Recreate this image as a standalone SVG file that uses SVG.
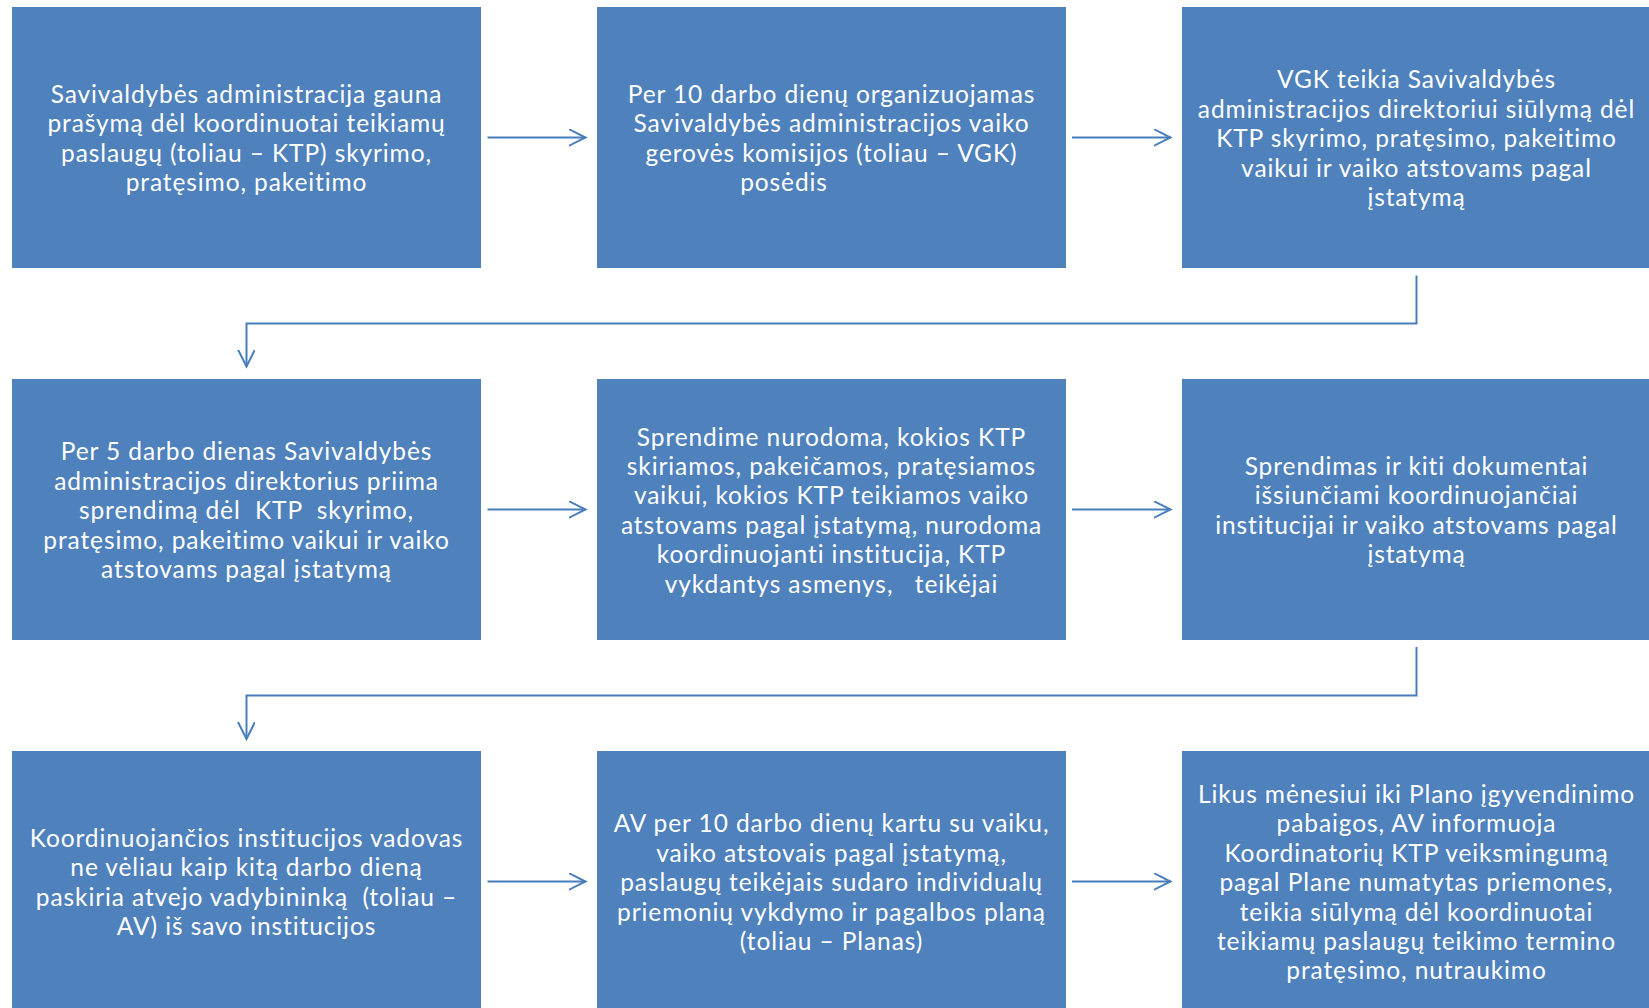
<svg xmlns="http://www.w3.org/2000/svg" width="1649" height="1008" viewBox="0 0 1649 1008">
<style>
.box{fill:#4F81BD;}
.t{font-family:Lato,"Liberation Sans",sans-serif;font-size:24.5px;letter-spacing:0.9px;fill:#FFFFFF;text-anchor:middle;white-space:pre;}
.c{fill:none;stroke:#4A7EBB;stroke-width:2;}
</style>
<defs>
<marker id="ah" markerUnits="userSpaceOnUse" markerWidth="20" markerHeight="20" viewBox="0 0 20 20" refX="17" refY="8.5" orient="auto">
<path d="M0,0 L17,8.5 L0,17" fill="none" stroke="#4A7EBB" stroke-width="2"/>
</marker>
</defs>
<rect width="1649" height="1008" fill="#FFFFFF"/>
<g id="n1">
<rect class="box" x="12" y="7" width="469" height="261"/>
<text class="t" y="103"><tspan x="246.5">Savivaldybės administracija gauna</tspan><tspan x="246.5" dy="29.4">prašymą dėl koordinuotai teikiamų</tspan><tspan x="246.5" dy="29.4">paslaugų (toliau – KTP) skyrimo,</tspan><tspan x="246.5" dy="29.4">pratęsimo, pakeitimo</tspan></text>
</g>
<g id="n2">
<rect class="box" x="597" y="7" width="469" height="261"/>
<text class="t" y="103"><tspan x="831.5">Per 10 darbo dienų organizuojamas</tspan><tspan x="831.5" dy="29.4">Savivaldybės administracijos vaiko</tspan><tspan x="831.5" dy="29.4">gerovės komisijos (toliau – VGK)</tspan><tspan x="784" dy="29.4">posėdis</tspan></text>
</g>
<g id="n3">
<rect class="box" x="1182" y="7" width="469" height="261"/>
<text class="t" y="88.3"><tspan x="1416.5">VGK teikia Savivaldybės</tspan><tspan x="1416.5" dy="29.4">administracijos direktoriui siūlymą dėl</tspan><tspan x="1416.5" dy="29.4">KTP skyrimo, pratęsimo, pakeitimo</tspan><tspan x="1416.5" dy="29.4">vaikui ir vaiko atstovams pagal</tspan><tspan x="1416.5" dy="29.4">įstatymą</tspan></text>
</g>
<g id="n4">
<rect class="box" x="12" y="379" width="469" height="261"/>
<text class="t" y="460.3"><tspan x="246.5">Per 5 darbo dienas Savivaldybės</tspan><tspan x="246.5" dy="29.4">administracijos direktorius priima</tspan><tspan x="246.5" dy="29.4">sprendimą dėl  KTP  skyrimo,</tspan><tspan x="246.5" dy="29.4">pratęsimo, pakeitimo vaikui ir vaiko</tspan><tspan x="246.5" dy="29.4">atstovams pagal įstatymą</tspan></text>
</g>
<g id="n5">
<rect class="box" x="597" y="379" width="469" height="261"/>
<text class="t" y="445.6"><tspan x="831.5">Sprendime nurodoma, kokios KTP</tspan><tspan x="831.5" dy="29.4">skiriamos, pakeičamos, pratęsiamos</tspan><tspan x="831.5" dy="29.4">vaikui, kokios KTP teikiamos vaiko</tspan><tspan x="831.5" dy="29.4">atstovams pagal įstatymą, nurodoma</tspan><tspan x="831.5" dy="29.4">koordinuojanti institucija, KTP</tspan><tspan x="831.5" dy="29.4">vykdantys asmenys,   teikėjai</tspan></text>
</g>
<g id="n6">
<rect class="box" x="1182" y="379" width="469" height="261"/>
<text class="t" y="475"><tspan x="1416.5">Sprendimas ir kiti dokumentai</tspan><tspan x="1416.5" dy="29.4">išsiunčiami koordinuojančiai</tspan><tspan x="1416.5" dy="29.4">institucijai ir vaiko atstovams pagal</tspan><tspan x="1416.5" dy="29.4">įstatymą</tspan></text>
</g>
<g id="n7">
<rect class="box" x="12" y="751" width="469" height="261"/>
<text class="t" y="847"><tspan x="246.5">Koordinuojančios institucijos vadovas</tspan><tspan x="246.5" dy="29.4">ne vėliau kaip kitą darbo dieną</tspan><tspan x="246.5" dy="29.4">paskiria atvejo vadybininką  (toliau –</tspan><tspan x="246.5" dy="29.4">AV) iš savo institucijos</tspan></text>
</g>
<g id="n8">
<rect class="box" x="597" y="751" width="469" height="261"/>
<text class="t" y="832.3"><tspan x="831.5">AV per 10 darbo dienų kartu su vaiku,</tspan><tspan x="831.5" dy="29.4">vaiko atstovais pagal įstatymą,</tspan><tspan x="831.5" dy="29.4">paslaugų teikėjais sudaro individualų</tspan><tspan x="831.5" dy="29.4">priemonių vykdymo ir pagalbos planą</tspan><tspan x="831.5" dy="29.4">(toliau – Planas)</tspan></text>
</g>
<g id="n9">
<rect class="box" x="1182" y="751" width="469" height="261"/>
<text class="t" y="802.9"><tspan x="1416.5">Likus mėnesiui iki Plano įgyvendinimo</tspan><tspan x="1416.5" dy="29.4">pabaigos, AV informuoja</tspan><tspan x="1416.5" dy="29.4">Koordinatorių KTP veiksmingumą</tspan><tspan x="1416.5" dy="29.4">pagal Plane numatytas priemones,</tspan><tspan x="1416.5" dy="29.4">teikia siūlymą dėl koordinuotai</tspan><tspan x="1416.5" dy="29.4">teikiamų paslaugų teikimo termino</tspan><tspan x="1416.5" dy="29.4">pratęsimo, nutraukimo</tspan></text>
</g>
<g id="connectors">
<path class="c" d="M487.5 137.5 H585.5" marker-end="url(#ah)"/>
<path class="c" d="M1072 137.5 H1170.5" marker-end="url(#ah)"/>
<path class="c" d="M1416.5 275.5 V323.5 H246.5 V366.5" marker-end="url(#ah)"/>
<path class="c" d="M487.5 509.5 H585.5" marker-end="url(#ah)"/>
<path class="c" d="M1072 509.5 H1170.5" marker-end="url(#ah)"/>
<path class="c" d="M1416.5 647 V695.5 H246.5 V739" marker-end="url(#ah)"/>
<path class="c" d="M487.5 881.5 H585.5" marker-end="url(#ah)"/>
<path class="c" d="M1072 881.5 H1170.5" marker-end="url(#ah)"/>
</g>
</svg>
